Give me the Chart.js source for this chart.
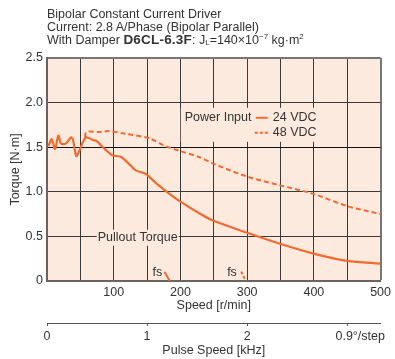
<!DOCTYPE html>
<html lang="en">
<head>
<meta charset="UTF-8">
<title>Speed - Torque</title>
<script src="https://cdn.jsdelivr.net/npm/chart.js@4.4.1/dist/chart.umd.min.js"></script>
<style>
  body { margin: 0; background: #fff; }
  #wrap { position: relative; width: 395px; height: 359px; }
  #head {
    position: absolute; left: 47px; top: 8px;
    font: 12.5px "Liberation Sans", Arial, sans-serif; line-height: 12.8px; color: #333;
  }
  #head b { font-size: 13.5px; letter-spacing: 0.2px; }
  #head sub { font-size: 8px; vertical-align: -1px; line-height: 0; }
  #head sup { font-size: 8px; vertical-align: 5px; line-height: 0; }
</style>
</head>
<body>
<div id="wrap">
  <canvas id="chart" width="395" height="359"></canvas>
  <div id="head">
    Bipolar Constant Current Driver<br>
    Current: 2.8 A/Phase (Bipolar Parallel)<br>
    With Damper <b>D6CL-6.3F</b>: J<sub>L</sub>=140×10<sup>−7</sup> kg·m<sup>2</sup>
  </div>
</div>
<script>
// speed [r/min] / torque [N·m]
const speed24 = [2, 7, 12, 17, 21, 28, 36, 39, 44, 49, 54, 59, 69, 74, 88, 98, 111, 126, 133, 148, 163, 183, 200, 228, 248, 300, 348, 398, 450, 500];
const torque24 = [1.51, 1.59, 1.48, 1.63, 1.54, 1.54, 1.61, 1.58, 1.40, 1.47, 1.56, 1.61, 1.58, 1.57, 1.47, 1.41, 1.39, 1.29, 1.24, 1.20, 1.10, 0.98, 0.89, 0.76, 0.68, 0.54, 0.42, 0.31, 0.225, 0.195];
const speed48 = [57, 59, 78, 93, 118, 153, 178, 198, 228, 248, 300, 348, 398, 450, 500];
const torque48 = [1.61, 1.67, 1.67, 1.68, 1.65, 1.60, 1.51, 1.46, 1.39, 1.32, 1.17, 1.075, 0.98, 0.84, 0.75];
// starting-frequency markers
const fs24Speed = [176, 184];
const fs48Speed = [291, 298];
const fsTorque = [0.105, 0];

const yTicks = [0, 0.5, 1.0, 1.5, 2.0, 2.5];
const xLabels = [100, 200, 300, 400, 500];
const pulseTicks = [0, 1, 2, 3];
const pulseStepLabel = '0.9°/step';

const orange = '#f26a2e';
const txt = '#333';
const fnt = '12.5px "Liberation Sans", Arial, sans-serif';

function pts(xs, ys) { return xs.map((x, i) => ({ x: x, y: ys[i] })); }

const notes = {
  id: 'notes',
  beforeDatasetsDraw(chart) {
    const { ctx } = chart;
    const x = chart.scales.x, y = chart.scales.y;
    ctx.save();
    ctx.font = fnt;
    ctx.fillStyle = '#fdeade';
    // pullout torque label
    const px = x.getPixelForValue(136), py = y.getPixelForValue(0.485);
    ctx.fillRect(px - 41, py - 8, 82, 16);
    ctx.fillStyle = txt;
    ctx.textAlign = 'center';
    ctx.textBaseline = 'middle';
    ctx.fillText('Pullout Torque', px, py);
    ctx.textAlign = 'left';
    ctx.fillText('fs', x.getPixelForValue(158), y.getPixelForValue(0.1));
    ctx.fillText('fs', x.getPixelForValue(270), y.getPixelForValue(0.1));
    // legend
    const lx = x.getPixelForValue(205), ly = y.getPixelForValue(1.83);
    ctx.fillStyle = '#fdeade';
    ctx.fillRect(lx - 3, ly - 10, 136, 34);
    ctx.fillStyle = txt;
    ctx.fillText('Power Input', lx + 1, ly);
    ctx.fillText(chart.data.datasets[0].label, lx + 89, ly);
    ctx.fillText(chart.data.datasets[1].label, lx + 89, ly + 15);
    ctx.strokeStyle = orange;
    ctx.lineWidth = 2;
    ctx.beginPath(); ctx.moveTo(lx + 72, ly); ctx.lineTo(lx + 84, ly); ctx.stroke();
    ctx.setLineDash([3, 2]);
    ctx.beginPath(); ctx.moveTo(lx + 71, ly + 15); ctx.lineTo(lx + 84, ly + 15); ctx.stroke();
    ctx.restore();
  }
};

new Chart(document.getElementById('chart'), {
  type: 'line',
  data: {
    datasets: [
      { label: '24 VDC', data: pts(speed24, torque24), borderColor: orange, borderWidth: 2.2, tension: 0.3, pointRadius: 0, xAxisID: 'x' },
      { label: '48 VDC', data: pts(speed48, torque48), borderColor: orange, borderWidth: 2, borderDash: [5, 3], tension: 0.3, pointRadius: 0, xAxisID: 'x' },
      { label: 'fs24', data: pts(fs24Speed, fsTorque), borderColor: orange, borderWidth: 2, pointRadius: 0, xAxisID: 'x' },
      { label: 'fs48', data: pts(fs48Speed, fsTorque), borderColor: orange, borderWidth: 2, borderDash: [3, 2], pointRadius: 0, xAxisID: 'x' }
    ]
  },
  options: {
    responsive: false,
    animation: false,
    layout: { padding: { top: 58, right: 13, left: 0, bottom: 0 } },
    plugins: { legend: { display: false }, tooltip: { enabled: false } },
    scales: {
      x: {
        type: 'linear', position: 'bottom', min: 0, max: 500,
        afterBuildTicks: s => { s.ticks = []; for (let v = 0; v <= 500; v += 50) s.ticks.push({ value: v }); },
        afterFit: s => { s.height = 42; },
        ticks: { color: txt, font: { family: '"Liberation Sans", Arial', size: 12.5 }, padding: 4, maxRotation: 0,
                 callback: v => xLabels.includes(v) ? v : '' },
        grid: { color: c => c.tick && c.tick.value === 500 ? '#777' : '#3a3a3a', lineWidth: c => c.tick && c.tick.value === 500 ? 2 : 1, drawTicks: false },
        border: { color: '#6b6360', width: 2 },
        title: { display: true, text: 'Speed [r/min]', color: txt, font: { family: '"Liberation Sans", Arial', size: 12.5 }, padding: { top: 0, bottom: 10 } }
      },
      x2: {
        type: 'linear', position: 'bottom', min: 0, max: 500 / 150,
        afterBuildTicks: s => { s.ticks = pulseTicks.map(v => ({ value: v })).concat([{ value: 3.13 }]); },
        afterFit: s => { s.height = 36; },
        ticks: { color: txt, font: { family: '"Liberation Sans", Arial', size: 12.5 }, padding: 3, maxRotation: 0, autoSkip: false,
                 callback: v => v === 3 ? '' : (v > 3 ? pulseStepLabel : v) },
        grid: { drawOnChartArea: false, drawTicks: true, tickLength: 3, tickColor: c => c.tick && c.tick.value > 3 ? 'rgba(0,0,0,0)' : '#555' },
        border: { color: '#555', width: 1 },
        title: { display: true, text: 'Pulse Speed [kHz]', color: txt, font: { family: '"Liberation Sans", Arial', size: 12.5 }, padding: { top: 0, bottom: 1 } }
      },
      y: {
        min: 0, max: 2.5,
        afterBuildTicks: s => { s.ticks = yTicks.map(v => ({ value: v })); },
        afterFit: s => { s.width = 47; },
        ticks: { color: txt, font: { family: '"Liberation Sans", Arial', size: 12.5 }, padding: 4,
                 callback: v => v === 0 ? '0' : v.toFixed(1) },
        grid: { color: c => c.tick && c.tick.value === 2.5 ? '#777' : (c.tick && c.tick.value === 1.5 ? '#111' : '#3a3a3a'),
                lineWidth: c => c.tick && c.tick.value === 2.5 ? 2 : 1, drawTicks: false },
        border: { color: '#6b6360', width: 2 },
        title: { display: true, text: 'Torque [N·m]', color: txt, font: { family: '"Liberation Sans", Arial', size: 12.5 }, padding: { top: 8, bottom: 0 } }
      }
    }
  },
  plugins: [{
    id: 'bg',
    beforeDraw(chart) {
      const a = chart.chartArea, ctx = chart.ctx;
      ctx.save();
      ctx.fillStyle = '#fdeade';
      ctx.fillRect(a.left, a.top, a.right - a.left, a.bottom - a.top);
      ctx.restore();
    }
  }, notes]
});
</script>
</body>
</html>
